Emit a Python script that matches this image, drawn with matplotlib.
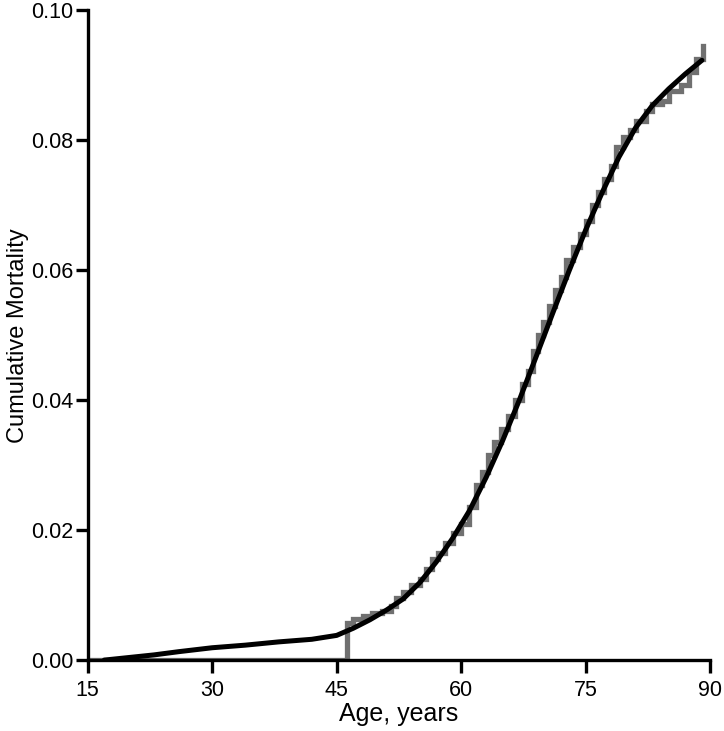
import matplotlib.pyplot as plt
import numpy as np

# observed cumulative mortality (step function)
step_age = [15.0, 46.2, 47.0, 48.2, 49.3, 50.5, 51.5, 52.2, 53.0, 54.0, 55.0,
            55.8, 56.5, 57.2, 58.0, 59.0, 60.0, 61.0, 61.8, 62.5, 63.2,
            64.0, 64.8, 65.6, 66.5, 67.3, 68.0, 68.6, 69.2, 69.8, 70.6,
            71.3, 72.0, 72.6, 73.5, 74.3, 75.0, 75.8, 76.5, 77.2, 78.0,
            78.6, 79.5, 80.3, 81.0, 82.3, 83.0, 84.2, 85.0, 86.5, 87.5,
            88.3, 89.1]
step_val = [0.0, 0.0057, 0.0063, 0.0068, 0.0072, 0.0076, 0.0083, 0.0096, 0.0105, 0.0115, 0.0125,
            0.0140, 0.0155, 0.0165, 0.0180, 0.0195, 0.0210, 0.0235, 0.0270, 0.0290, 0.0315,
            0.0335, 0.0355, 0.0375, 0.0400, 0.0425, 0.0445, 0.0475, 0.0500, 0.0520, 0.0545,
            0.0570, 0.0590, 0.0615, 0.0635, 0.0655, 0.0675, 0.0700, 0.0720, 0.0740, 0.0760,
            0.0790, 0.0805, 0.0815, 0.0830, 0.0845, 0.0855, 0.0860, 0.0875, 0.0885, 0.0905,
            0.0925, 0.0945]

# fitted smooth curve
fit_age = [17, 20, 23, 26, 30, 34, 38, 42, 45, 47, 49, 51, 53, 55, 57, 59, 61, 63,
           65, 67, 69, 71, 73, 75, 77, 79, 81, 83, 85, 87, 89]
fit_val = [0.0000, 0.0004, 0.0008, 0.0013, 0.0019, 0.0023, 0.0028, 0.0032, 0.0038,
           0.0049, 0.0062, 0.0077, 0.0094, 0.0119, 0.0151, 0.0188, 0.0230, 0.0281,
           0.0338, 0.0400, 0.0466, 0.0533, 0.0599, 0.0662, 0.0720, 0.0774, 0.0819,
           0.0853, 0.0879, 0.0902, 0.0923]

xticks = [15, 30, 45, 60, 75, 90]
yticks = [0.00, 0.02, 0.04, 0.06, 0.08, 0.10]


def main():
    plt.rcParams['font.family'] = ['Liberation Sans', 'DejaVu Sans']
    fig = plt.figure(figsize=(7.24, 7.31), dpi=100)
    ax = fig.add_axes([0.121, 0.097, 0.860, 0.889])

    ax.step(step_age, step_val, where="post", color="#707070", lw=3.8,
            solid_joinstyle="miter", zorder=2)
    ax.plot(fit_age, fit_val, color="black", lw=3.6, solid_capstyle="round", zorder=3)

    ax.set_xlim(15, 90)
    ax.set_ylim(0, 0.10)
    ax.set_xticks(xticks)
    ax.set_yticks(yticks)
    ax.set_yticklabels(["%.2f" % v for v in yticks])

    for side in ["top", "right"]:
        ax.spines[side].set_visible(False)
    for side in ["left", "bottom"]:
        ax.spines[side].set_linewidth(2.4)
    ax.tick_params(direction="out", length=9, width=2.4, labelsize=15.5)
    ax.tick_params(axis="x", pad=5)
    ax.tick_params(axis="y", pad=1)

    ax.set_xlabel("Age, years", fontsize=18, labelpad=1)
    ax.set_ylabel("Cumulative Mortality", fontsize=17, labelpad=2)

    fig.savefig("out.png", dpi=100)


if __name__ == "__main__":
    main()
